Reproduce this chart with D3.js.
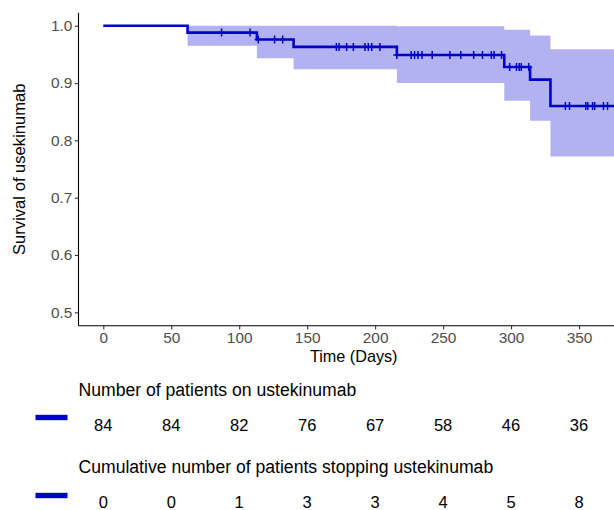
<!DOCTYPE html>
<html>
<head>
<meta charset="utf-8">
<script src="https://cdn.jsdelivr.net/npm/d3@7"></script>
<style>
  body { margin: 0; background: #fff; }
  svg { display: block; font-family: "Liberation Sans", Arial, sans-serif; }
</style>
</head>
<body>
<svg id="km" width="614" height="510"></svg>
<script>
// Kaplan-Meier steps (time of drop, survival after drop, CI band)
var stepTimes = [0, 62, 113, 140, 216, 295, 314, 329];
var survival = [1.0, 0.988, 0.976, 0.963, 0.949, 0.928, 0.906, 0.860];
var upperCI = [1.0, 1.0, 1.0, 1.0, 0.999, 0.993, 0.983, 0.959];
var lowerCI = [1.0, 0.965, 0.943, 0.924, 0.900, 0.869, 0.834, 0.772];
var endTime = 386;

// censored observations
var censorTimes = [87, 108, 114, 126, 132, 171.5, 173.5, 179, 184, 192.5, 195, 197.5, 203.5,
    216, 226.5, 229, 231.5, 234.5, 242, 255, 263, 272.5, 279, 285.5, 287.5, 293,
    299, 304, 306, 307.5, 313, 340, 343, 355, 356.5, 360, 361.5, 368, 371];

// risk table
var riskTimes = [0, 50, 100, 150, 200, 250, 300, 350];
var atRisk = [84, 84, 82, 76, 67, 58, 46, 36];
var cumStopped = [0, 0, 1, 3, 3, 4, 5, 8];

var yTicks = [0.5, 0.6, 0.7, 0.8, 0.9, 1.0];
var curveColor = '#0000CC';

var svg = d3.select('#km');

var plot = {l: 78.5, r: 629, t: 12.7, b: 325.7};

var xScale = d3.scaleLinear()
    .domain([0, 350])
    .range([103.3, 579]);
var yScale = d3.scaleLinear()
    .domain([0.5, 1.0])
    .range([312.3, 25.7]);

// survival step data
var stepData = stepTimes.map(function(t, i) {
    return {t: t, s: survival[i], lo: lowerCI[i], hi: upperCI[i]};
});
stepData.push({t: endTime, s: survival[survival.length - 1],
    lo: lowerCI[lowerCI.length - 1], hi: upperCI[upperCI.length - 1]});

// confidence band
var band = d3.area()
    .curve(d3.curveStepAfter)
    .x(function(d) { return xScale(d.t); })
    .y0(function(d) { return yScale(d.lo); })
    .y1(function(d) { return yScale(d.hi); });

svg.append('path')
    .datum(stepData)
    .attr('d', band)
    .attr('fill', curveColor)
    .attr('fill-opacity', 0.3);

var line = d3.line()
    .curve(d3.curveStepAfter)
    .x(function(d) { return xScale(d.t); })
    .y(function(d) { return yScale(d.s); });

svg.append('path')
    .datum(stepData)
    .attr('d', line)
    .attr('fill', 'none')
    .attr('stroke', curveColor)
    .attr('stroke-width', 2.6);

// survival at a given time
function survAt(t) {
    var s = 1;
    for (var i = 0; i < stepTimes.length; i++) {
        if (stepTimes[i] <= t) s = survival[i];
    }
    return s;
}

svg.append('g').selectAll('path.censor')
    .data(censorTimes)
    .enter().append('path')
    .attr('class', 'censor')
    .attr('d', function(d) {
        var cx = xScale(d), cy = yScale(survAt(d));
        return 'M' + (cx - 3.5) + ',' + cy + 'H' + (cx + 3.5) +
            'M' + cx + ',' + (cy - 4) + 'V' + (cy + 4);
    })
    .attr('stroke', curveColor)
    .attr('stroke-width', 1.5);

// axes
var xAxisG = svg.append('g')
    .attr('transform', 'translate(0,' + plot.b + ')')
    .call(d3.axisBottom(xScale).tickValues(riskTimes).tickSize(3.7).tickPadding(2.5));
xAxisG.select('.domain').attr('d', 'M' + plot.l + ',0H' + plot.r);

var yAxisG = svg.append('g')
    .attr('transform', 'translate(' + plot.l + ',0)')
    .call(d3.axisLeft(yScale).tickValues(yTicks).tickFormat(d3.format('.1f')).tickSize(3.7).tickPadding(2.5));
yAxisG.select('.domain').attr('d', 'M0,' + plot.t + 'V' + plot.b);

svg.selectAll('.domain').attr('stroke', '#000').attr('stroke-width', 1.1);
svg.selectAll('.tick line').attr('stroke', '#333').attr('stroke-width', 1.1);
svg.selectAll('.tick text')
    .attr('fill', '#4D4D4D')
    .style('font-size', '15.4px')
    .style('font-family', '"Liberation Sans", Arial, sans-serif');

// axis titles
svg.append('text')
    .attr('x', (plot.l + plot.r) / 2)
    .attr('y', 362)
    .attr('text-anchor', 'middle')
    .style('font-size', '16.2px')
    .text('Time (Days)');

svg.append('text')
    .attr('transform', 'translate(25,' + ((plot.t + plot.b) / 2) + ') rotate(-90)')
    .attr('text-anchor', 'middle')
    .style('font-size', '16.6px')
    .text('Survival of usekinumab');

// risk tables
var tables = [
    {title: 'Number of patients on ustekinumab', values: atRisk, titleY: 395.5, rowY: 431, barY: 417.5},
    {title: 'Cumulative number of patients stopping ustekinumab', values: cumStopped, titleY: 473, rowY: 508, barY: 495.5}
];

tables.forEach(function(tb) {
    svg.append('text')
        .attr('x', plot.l)
        .attr('y', tb.titleY)
        .style('font-size', '17.6px')
        .text(tb.title);
    svg.append('rect')
        .attr('x', 35.5)
        .attr('y', tb.barY - 2.7)
        .attr('width', 32)
        .attr('height', 5.4)
        .attr('fill', curveColor);
    svg.append('g').selectAll('text')
        .data(tb.values)
        .enter().append('text')
        .attr('x', function(d, i) { return xScale(riskTimes[i]); })
        .attr('y', tb.rowY)
        .attr('text-anchor', 'middle')
        .style('font-size', '16.5px')
        .text(function(d) { return d; });
});
</script>
</body>
</html>
